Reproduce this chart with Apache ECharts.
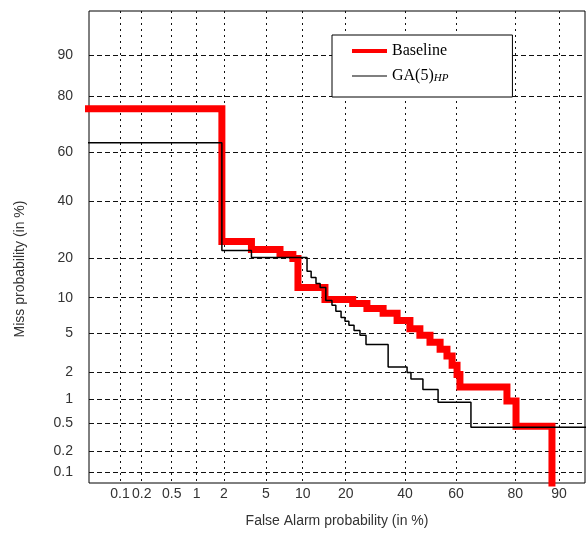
<!DOCTYPE html>
<html>
<head>
<meta charset="utf-8">
<script src="https://cdn.jsdelivr.net/npm/echarts@6/dist/echarts.min.js"></script>
<style>
  html, body { margin: 0; background: #fff; }
  #chart { width: 586px; height: 533px; }
</style>
</head>
<body>
<div id="chart"></div>
<script>
// tick values shared by both axes (in %)
const tickValues = [0.1, 0.2, 0.5, 1, 2, 5, 10, 20, 40, 60, 80, 90];
const tickLabels = ["0.1", "0.2", "0.5", "1", "2", "5", "10", "20", "40", "60", "80", "90"];

// the plot is not a clean normal-deviate scale, so keep where each tick sits
// along the axis (0 = left / bottom edge of the plot box)
const xTickPos = [31, 52.7, 82.7, 107.7, 135, 177, 213.7, 256.7, 316, 367, 426.3, 470];
const yTickPos = [10.7, 31.7, 60, 84, 110.7, 150, 185.7, 225.7, 282.3, 331.3, 387.3, 429];
const xSpan = 496;
const ySpan = 473;

// step curves: each point is the left end of a flat part (in %)
const baselineFA = [0.01, 1.9, 3.7, 6.6, 8.4, 9.2, 14.6, 22.0, 26.4, 31.9, 37.0, 41.9, 45.8, 49.8, 53.8, 56.5, 58.5, 60.4, 61.5, 77.6, 80.2, 88.7];
const baselineMiss = [76.2, 25.1, 22.5, 21.0, 19.8, 12.1, 9.7, 9.0, 8.2, 7.5, 6.5, 5.5, 4.8, 4.1, 3.5, 3.0, 2.4, 1.9, 1.38, 0.95, 0.455, 0.06];

const gaFA = [0.01, 1.9, 3.7, 10.8, 11.6, 12.6, 13.5, 14.8, 16.3, 17.3, 18.7, 19.8, 20.9, 22.4, 24.2, 26.1, 33.7, 40.8, 42.3, 47.0, 53.0, 65.6, 99.5];
const gaMiss = [63.9, 22.2, 20.1, 16.1, 14.5, 13.0, 12.1, 9.5, 8.7, 7.8, 6.9, 6.4, 5.9, 5.3, 4.8, 3.9, 2.3, 2.0, 1.7, 1.3, 0.92, 0.44, 0.44];

// inverse normal cdf (Acklam)
function probit(p) {
  const a = [-39.69683028665376, 220.9460984245205, -275.9285104469687, 138.357751867269, -30.66479806614716, 2.506628277459239];
  const b = [-54.47609879822406, 161.5858368580409, -155.6989798598866, 66.80131188771972, -13.28068155288572];
  const c = [-0.007784894002430293, -0.3223964580411365, -2.400758277161838, -2.549732539343734, 4.374664141464968, 2.938163982698783];
  const d = [0.007784695709041462, 0.3224671290700398, 2.445134137142996, 3.754408661907416];
  const pl = 0.02425;
  let q, r;
  if (p < pl) {
    q = Math.sqrt(-2 * Math.log(p));
    return (((((c[0] * q + c[1]) * q + c[2]) * q + c[3]) * q + c[4]) * q + c[5]) /
      ((((d[0] * q + d[1]) * q + d[2]) * q + d[3]) * q + 1);
  }
  if (p > 1 - pl) {
    q = Math.sqrt(-2 * Math.log(1 - p));
    return -(((((c[0] * q + c[1]) * q + c[2]) * q + c[3]) * q + c[4]) * q + c[5]) /
      ((((d[0] * q + d[1]) * q + d[2]) * q + d[3]) * q + 1);
  }
  q = p - 0.5;
  r = q * q;
  return (((((a[0] * r + a[1]) * r + a[2]) * r + a[3]) * r + a[4]) * r + a[5]) * q /
    (((((b[0] * r + b[1]) * r + b[2]) * r + b[3]) * r + b[4]) * r + 1);
}

const tickZ = tickValues.map((v) => probit(v / 100));

// percent -> axis position, linear in normal deviate between ticks
function toPos(pct, tickPos) {
  const z = probit(pct / 100);
  let i = 0;
  while (i < tickZ.length - 2 && z > tickZ[i + 1]) i++;
  return tickPos[i] + ((z - tickZ[i]) / (tickZ[i + 1] - tickZ[i])) * (tickPos[i + 1] - tickPos[i]);
}

const xTicks = tickValues.map((v) => toPos(v, xTickPos));
const yTicks = tickValues.map((v) => toPos(v, yTickPos));

const labelFor = (ticks) => (val) => {
  const i = ticks.findIndex((t) => Math.abs(t - val) < 0.01);
  return i < 0 ? "" : tickLabels[i];
};

const curve = (fa, miss) => fa.map((v, i) => [toPos(v, xTickPos), toPos(miss[i], yTickPos)]);

const labelFont = "Liberation Sans, Arial, sans-serif";
const serifFont = "Liberation Serif, Times New Roman, serif";

const myChart = echarts.init(document.getElementById("chart"));

myChart.setOption({
  backgroundColor: "#fff",
  animation: false,
  grid: {
    left: 89,
    right: 1,
    top: 11,
    bottom: 49,
    show: true,
    borderColor: "#000",
    borderWidth: 1,
  },
  legend: {
    orient: "vertical",
    left: 332,
    top: 35,
    padding: [8, 64, 13, 18],
    itemGap: 6,
    itemWidth: 35,
    itemHeight: 14,
    backgroundColor: "#fff",
    borderColor: "#000",
    borderWidth: 1,
    data: [
      { name: "Baseline", lineStyle: { width: 4 }, itemStyle: { opacity: 0 } },
      { name: "GA(5)HP", lineStyle: { width: 1.2 }, itemStyle: { opacity: 0 } },
    ],
    formatter: (name) => (name === "GA(5)HP" ? "{base|GA(5)}{sub|HP}" : "{base|" + name + "}"),
    textStyle: {
      color: "#000",
      fontFamily: serifFont,
      fontSize: 16,
      rich: {
        base: { fontFamily: serifFont, fontSize: 16, color: "#000", lineHeight: 16, verticalAlign: "top" },
        sub: { fontFamily: serifFont, fontSize: 11, fontStyle: "italic", color: "#000", lineHeight: 11, verticalAlign: "bottom", padding: [8, 0, 0, 0] },
      },
    },
  },
  xAxis: {
    type: "value",
    min: 0,
    max: xSpan,
    name: "False Alarm probability (in %)",
    nameLocation: "middle",
    nameGap: 31,
    nameTextStyle: { fontFamily: labelFont, fontSize: 14, color: "#333" },
    axisLine: { show: false },
    axisTick: { show: false, customValues: xTicks },
    axisLabel: {
      customValues: xTicks,
      formatter: labelFor(xTicks),
      fontFamily: labelFont,
      fontSize: 14,
      color: "#333",
      margin: 4,
    },
    splitLine: {
      show: true,
      lineStyle: { color: "#111", width: 1, type: [2, 4] },
    },
  },
  yAxis: {
    type: "value",
    min: 0,
    max: ySpan,
    name: "Miss probability (in %)",
    nameLocation: "middle",
    nameGap: 62,
    nameTextStyle: { fontFamily: labelFont, fontSize: 14, color: "#333", padding: [0, 44, 0, 0] },
    axisLine: { show: false },
    axisTick: { show: false, customValues: yTicks },
    axisLabel: {
      customValues: yTicks,
      formatter: labelFor(yTicks),
      fontFamily: labelFont,
      fontSize: 14,
      color: "#333",
      margin: 16,
    },
    splitLine: {
      show: true,
      lineStyle: { color: "#111", width: 1, type: [5, 3] },
    },
  },
  series: [
    {
      name: "Baseline",
      type: "line",
      step: "end",
      symbol: "none",
      clip: true,
      lineStyle: { color: "#ff0000", width: 7, cap: "butt", join: "miter" },
      itemStyle: { color: "#ff0000" },
      data: curve(baselineFA, baselineMiss),
      z: 3,
    },
    {
      name: "GA(5)HP",
      type: "line",
      step: "end",
      symbol: "none",
      clip: true,
      lineStyle: { color: "#000", width: 1.5 },
      itemStyle: { color: "#000" },
      data: curve(gaFA, gaMiss),
      z: 4,
    },
  ],
});
</script>
</body>
</html>
